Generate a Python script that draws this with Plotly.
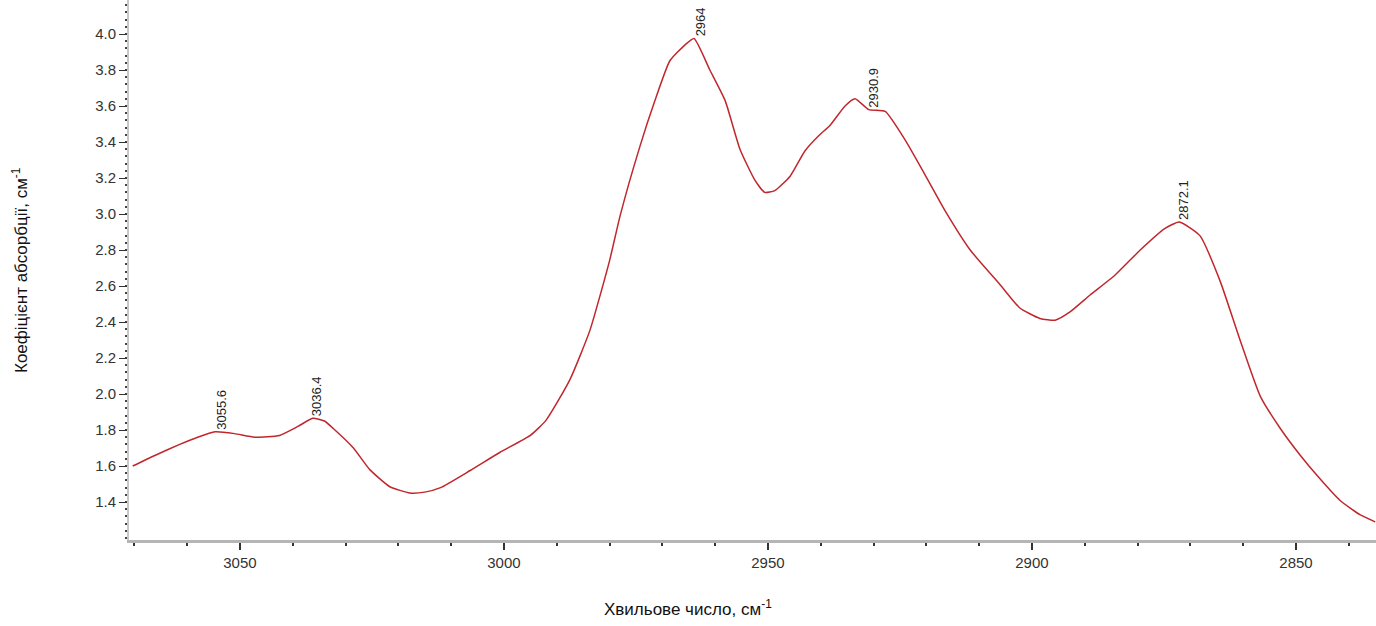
import plotly.graph_objects as go

wavenumber = [3070.3, 3066.0, 3061.4, 3058.0, 3054.7, 3051.0, 3047.2, 3042.5, 3039.0, 3036.2, 3034.0, 3032.0,
              3028.5, 3025.4, 3021.6, 3017.8, 3015.0, 3012.0, 3006.4, 3000.8, 2995.0, 2992.0, 2987.5,
              2983.7, 2980.0, 2978.0, 2974.2, 2971.4, 2968.6, 2965.7, 2964.0, 2961.0, 2958.1, 2955.3,
              2952.5, 2950.6, 2948.7, 2945.8, 2943.0, 2940.2, 2938.3, 2935.4, 2933.5, 2930.9, 2927.8,
              2924.0, 2920.3, 2916.5, 2911.7, 2906.0, 2902.3, 2898.5, 2895.6, 2892.8, 2889.0, 2884.3,
              2879.5, 2874.8, 2872.1, 2868.2, 2864.4, 2860.6, 2856.8, 2853.0, 2849.2, 2845.5, 2841.7,
              2837.9, 2835.0]
absorbance = [1.60, 1.66, 1.72, 1.76, 1.79, 1.78, 1.76, 1.77, 1.82, 1.865, 1.85, 1.80,
              1.70, 1.58, 1.485, 1.45, 1.455, 1.48, 1.575, 1.675, 1.77, 1.855, 2.08,
              2.355, 2.74, 2.99, 3.38, 3.63, 3.85, 3.94, 3.975, 3.80, 3.63, 3.36,
              3.19, 3.12, 3.13, 3.21, 3.35, 3.44, 3.49, 3.60, 3.64, 3.58, 3.57,
              3.41, 3.22, 3.02, 2.80, 2.606, 2.478, 2.42, 2.41, 2.456, 2.55, 2.66,
              2.80, 2.92, 2.956, 2.88, 2.63, 2.30, 1.99, 1.81, 1.66, 1.53, 1.41,
              1.33, 1.29]

peak_labels = ["3055.6", "3036.4", "2964", "2930.9", "2872.1"]
peak_x = [3053.4, 3035.6, 2962.8, 2929.9, 2871.2]
peak_y = [1.79, 1.865, 3.975, 3.58, 2.956]

x_ticks = [3050, 3000, 2950, 2900, 2850]
y_ticks = [1.4, 1.6, 1.8, 2.0, 2.2, 2.4, 2.6, 2.8, 3.0, 3.2, 3.4, 3.6, 3.8, 4.0]

fig = go.Figure()
fig.add_trace(go.Scatter(x=wavenumber, y=absorbance, mode="lines",
                         line=dict(color="#c0272d", width=1.5, shape="spline", smoothing=0.5),
                         hoverinfo="x+y", showlegend=False))

for lab, px, py in zip(peak_labels, peak_x, peak_y):
    fig.add_annotation(x=px, y=py, text=lab, textangle=-90, showarrow=False,
                       xanchor="center", yanchor="bottom",
                       font=dict(family="Liberation Sans Narrow, Liberation Sans, Arial", size=13, color="#222222"))

fig.add_annotation(xref="paper", yref="paper", x=(20 - 129) / 1247, y=0.5,
                   text="Коефіцієнт абсорбції, см<sup>-1</sup>", textangle=-90, showarrow=False,
                   xanchor="center", yanchor="middle",
                   font=dict(family="Liberation Sans, Arial", size=17, color="#111111"))
fig.add_annotation(xref="paper", yref="paper", x=(688 - 129) / 1247, y=(540 - 608) / 540,
                   text="Хвильове число, см<sup>-1</sup>", showarrow=False,
                   xanchor="center", yanchor="middle",
                   font=dict(family="Liberation Sans, Arial", size=17, color="#111111"))

fig.update_layout(
    width=1376, height=626,
    margin=dict(l=129, r=0, t=0, b=86),
    paper_bgcolor="white", plot_bgcolor="white",
    xaxis=dict(range=[3071.0, 2834.85], tickmode="array", tickvals=x_ticks,
               ticktext=[str(v) for v in x_ticks],
               showgrid=False, zeroline=False, showline=True, linecolor="#b5b5b5", linewidth=3,
               ticks="outside", ticklen=7, tickwidth=2, tickcolor="#333333",
               minor=dict(dtick=10, ticks="outside", ticklen=3, tickwidth=2, tickcolor="#333333"),
               tickfont=dict(family="Liberation Sans, Arial", size=15, color="#333333")),
    yaxis=dict(range=[1.189, 4.189], tickmode="array", tickvals=y_ticks,
               ticktext=[f"{v:.1f}" for v in y_ticks],
               showgrid=False, zeroline=False, showline=True, linecolor="#c8c8c8", linewidth=2,
               ticks="outside", ticklen=8, tickwidth=1, tickcolor="#333333",
               minor=dict(dtick=0.04, tick0=1.4, ticks="outside", ticklen=2, tickwidth=2, tickcolor="#444444"),
               tickfont=dict(family="Liberation Sans, Arial", size=15, color="#333333")),
)

fig.write_html("out.html", config={"displayModeBar": False})

with open("out.html", "r", encoding="utf-8") as f:
    html = f.read()
html = html.replace("<body>", '<body style="margin:0;overflow:hidden">', 1)
with open("out.html", "w", encoding="utf-8") as f:
    f.write(html)
